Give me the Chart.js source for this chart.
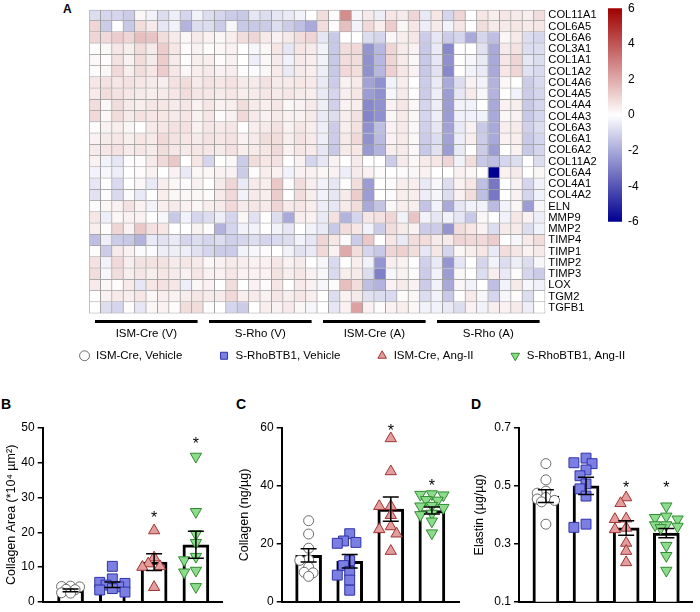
<!DOCTYPE html>
<html>
<head>
<meta charset="utf-8">
<script src="https://cdn.jsdelivr.net/npm/chart.js@4.4.1/dist/chart.umd.min.js"></script>
<style>
  body { margin: 0; background: #fff; }
  #wrap { position: relative; width: 700px; height: 612px; overflow: hidden; font-family: Arial, "Liberation Sans", sans-serif; }
  canvas { position: absolute; }
  .tag { position: absolute; font-weight: bold; color: #000; }
</style>
</head>
<body>
<div id="wrap">
  <div class="tag" style="left:63px;top:2px;font-size:12px">A</div>
  <div class="tag" style="left:1px;top:396px;font-size:14px">B</div>
  <div class="tag" style="left:236px;top:396px;font-size:14px">C</div>
  <div class="tag" style="left:471px;top:396px;font-size:14px">D</div>
  <canvas id="heat" width="605" height="345" style="left:0;top:0"></canvas>
  <canvas id="cbar" width="70" height="240" style="left:600px;top:-5px"></canvas>
  <canvas id="legend" width="700" height="100" style="left:0;top:314px"></canvas>
  <canvas id="panelB" width="232" height="197" style="left:0;top:415px"></canvas>
  <canvas id="panelC" width="235" height="197" style="left:232px;top:415px"></canvas>
  <canvas id="panelD" width="233" height="197" style="left:467px;top:415px"></canvas>
</div>
<script>
// ---- heatmap data (log2 fold change, 10 animals per group) ----
const genes = ['COL11A1', 'COL6A5', 'COL6A6', 'COL3A1', 'COL1A1', 'COL1A2', 'COL4A6', 'COL4A5', 'COL4A4',
  'COL4A3', 'COL6A3', 'COL6A1', 'COL6A2', 'COL11A2', 'COL6A4', 'COL4A1', 'COL4A2', 'ELN', 'MMP9', 'MMP2',
  'TIMP4', 'TIMP1', 'TIMP2', 'TIMP3', 'LOX', 'TGM2', 'TGFB1'];
const heatGroups = ['ISM-Cre (V)', 'S-Rho (V)', 'ISM-Cre (A)', 'S-Rho (A)'];
const heatValues = [
  [-0.8,-1,-1,-1.2,0.2,-0.3,-0.8,-0.4,-1,-0.3, -0.8,-1,-1.2,-1.3,-0.6,-0.8,-0.6,-0.5,-0.3,0, 0.8,0.1,2.7,-0.2,0.5,-0.4,0.6,0.5,1,-0.5, 0.6,-1,1,0,0.6,0.4,0.6,0.5,0.4,0.8],
  [1,-1.2,0,-1.3,0.8,0.5,-0.6,-0.3,-1.8,-0.8, -0.8,-1.2,-0.2,-1.3,-1.3,-1.2,-0.8,-1.2,-1.5,-2, 0.8,0.1,1.5,-0.3,0.9,0.4,1.2,0.2,0.6,-0.4, 0.5,-0.3,0.6,0,0.8,0.5,0.5,0.6,0.5,0.6],
  [1,0.9,1.2,1,1.5,1.4,0.8,0.5,0.2,0.5, 0.3,0.2,0.4,0.8,1,0.5,0.3,0.5,0.8,1, -0.6,-1.3,0,0,-0.8,-1,0.2,0.4,0.6,-1.2, -0.6,-1.2,-1,-2,-1,-1.5,0.2,0.5,-0.8,-1],
  [0.1,0.2,0.6,0.4,0.8,0.5,1.2,0.6,0.1,0.3, 0.1,0.2,0.3,0,-0.2,0.2,0.6,-0.6,0.6,0.5, -0.3,-1.3,0.8,0.9,-2.5,-1.7,1,0.5,0.3,-1.3, -0.5,-2.8,0,0,-0.7,-2,0.5,0.7,-0.8,-0.8],
  [0.2,0.1,0.7,0.3,0.8,0.5,1.2,0.5,0.1,0.4, 0.4,0.1,0.3,0,-0.4,0.2,0.5,-0.3,0.5,0.4, -0.3,-1.3,0.8,0.8,-2.6,-1.7,1,0.5,0.2,-1.3, -0.6,-2.6,0,-0.2,-0.5,-2,0.6,1,-0.6,-0.8],
  [0.1,0.2,0.9,0.4,0.8,0.6,1.2,0.6,0.2,0.4, 0.5,0.3,0.4,0.1,-0.1,0.2,0.5,-0.5,0.5,0.4, -0.4,-1.3,0.9,0.8,-2.6,-1.7,1.1,0.6,0.3,-1.3, -0.7,-2.8,0,-0.3,-0.5,-2,0.6,1,-0.7,-0.9],
  [0.6,0.7,0.6,0.7,0.6,0.5,0.4,0.7,0.8,0.5, 0.7,0.6,0.7,0.5,0.5,0.7,0.5,0.5,0.6,0.5, -0.5,-1.2,0.3,0.5,-2.2,-2.6,-0.3,0.4,0,-1.2, -0.5,-2,-0.8,0.3,-0.3,-1.8,0.2,0,-1.2,-0.9],
  [0.5,0.8,0.7,0.6,0.5,0.4,0.5,0.6,0.8,0.6, 0.6,0.5,0.6,0.4,0.5,0.6,0.5,0.6,0.5,0.4, -0.5,-1,0.4,0.6,-2.3,-2.6,-0.2,0.5,0.1,-1.2, -0.4,-2.3,-0.6,0.5,-0.2,-1.8,0,-0.3,-1.2,-1],
  [0.8,0.2,0.8,0.5,0.4,0.6,0.6,0.5,0.6,0.3, 0.6,0.3,0.4,0.8,0.5,0.4,0.6,0.2,0.3,0.5, -0.4,-1.1,0.3,0.4,-2.8,-2.6,0.3,0.6,0.2,-1, -0.4,-2.3,-0.3,-0.3,0,-2,0.3,0.4,-1.3,-1],
  [0.9,0.2,0.8,0.5,0.7,0.6,0.6,0.5,0.6,0.3, 0.6,0.1,0.3,0.9,0.5,0.3,0.5,0.3,0.3,0.5, -0.5,-0.8,0.4,0.7,-2.9,-2.6,0.2,0.5,0.2,-1, -0.4,-2.3,-0.3,-0.3,-0.3,-2,0.2,0.3,-1.3,-1],
  [0.1,0.3,0.4,0.2,0,0.5,0.6,0.7,0.7,0.3, 0.6,0.5,0.6,0,0.4,0.5,0.7,0.3,0.6,0.4, -0.4,-1.2,0.4,0.7,-2.6,-1.5,0.3,0.5,0.2,-1.1, -0.6,-2.2,-0.5,0.3,-1.3,-2,0.4,0.5,-1.1,-0.8],
  [0.3,0.5,0.6,0.4,0.6,0.5,0.9,0.7,0.6,0.5, 0.7,0.6,0.7,0.3,0.5,0.8,0.8,0.4,0.7,0.5, -0.4,-1.2,0.5,0.9,-2.6,-1.6,0.3,0.5,0.2,-1.2, -0.8,-2.2,-0.4,0.4,-1.2,-2,0.3,0.4,-1.3,-1],
  [0.5,0.6,0.7,0.5,0.6,0.5,0.8,0.6,0.5,0.6, 0.6,0.5,0.7,0.4,0.5,0.6,0.9,0.3,0.6,0.5, -0.6,-1.3,0.5,0.6,-2.4,-1.8,0.4,0.5,0.2,-1.3, -0.7,-2.3,-0.5,0,-1.2,-2.3,0,0.3,-1.3,-1],
  [0.3,-0.3,-0.6,0.1,0.1,0.5,0.9,1.3,0,0.6, -1,0,0.2,-1.2,0.8,0.6,0.7,0,0.3,-1, -0.6,0.3,0,0.5,0,0,-1.2,0.5,0.2,0.5, 0.6,1,-0.3,0.8,-1.3,-1.5,-1,-0.8,0,-0.8],
  [-0.3,-0.2,-0.4,0,0.1,0.3,0,0.3,-0.5,0.2, 0.2,0.3,0.3,-1.2,0.1,0.4,0.3,-0.3,0.3,0.3, 0.2,0.3,-0.4,0.5,0.3,0.1,0,0.1,0.2,0.3, 0,0,0.3,0.2,0,-6,0.3,0.5,0,0.2],
  [-0.6,0,-0.9,0,0.2,-0.5,0.4,0.2,0.1,0.3, 0,0.5,1,-0.5,0.5,0.4,1.3,0.1,0.8,0.4, -0.3,-0.6,0.1,0.8,-2.3,0,-0.1,0.4,0.4,-0.5, -0.2,-0.8,0.3,0.6,-1.5,-3.2,0,0.3,-1,-0.3],
  [-0.7,0.1,-0.9,-0.1,-0.5,0,0.4,0.2,0.2,0.2, 0.1,0.5,0.9,-0.3,0.5,0.4,1.2,0,0.8,0.4, -0.3,-0.6,0.5,1.2,-2.3,0,-0.1,0.4,0.4,-0.4, -0.2,-0.8,0.3,0.8,-1.5,-3.2,0,0.3,-1,-0.3],
  [0.1,0.2,0.3,0.7,0.3,-0.3,0.4,0.5,0.3,0.2, 0.4,0.5,0.9,0.5,0.6,0.5,1,0.5,0.6,0.4, -0.4,-0.6,0.5,0.8,-2,-1.4,0.2,0.4,0.4,-1.4, -0.3,-2,-0.6,-0.3,-0.3,-1.6,-0.3,0.2,-2.3,-0.2],
  [0.6,-0.4,0.2,0.3,0.3,0,-0.2,-1.3,-0.3,-1, -0.8,-0.4,-1,0.2,-0.7,0,-0.8,-2,0.4,0.3, -0.5,0.7,-1.8,-1,0.6,0.7,1,-0.3,1.4,-0.3, -0.6,-0.3,-0.6,-1.3,0.2,0,-0.3,0.6,0.3,-0.4],
  [0.4,0.1,1,0.3,1.3,0.7,0.6,0,0,0.3, 0.1,-1.8,-1,-0.3,-0.3,0,-0.3,-0.6,0,-0.3, -0.5,-1.3,0.8,0.6,-0.3,-1.2,0.8,0.5,0.3,-1.2, -1.2,-2.5,0.8,0.6,0.3,-0.8,0.5,0.5,-0.8,-0.3],
  [-1.5,-0.4,-1.2,-1.3,-1.8,-0.5,-0.7,-0.5,-1,-0.8, -1,-0.8,-1.1,-1,-0.8,-1,-0.9,-0.8,-0.3,-0.6, 1,0.6,-0.1,-1.2,1.3,0,0.6,-0.5,0.8,0.8, 0.5,0.5,1,0.9,0.9,1.2,0,-0.2,0.5,0.8],
  [0.1,-1.2,0.5,0.3,-0.1,-0.1,-0.4,-0.4,-0.4,-0.7, -1,-1.2,-1.2,-0.3,-0.2,0.1,0,-0.3,-0.7,-0.5, 0.9,0.3,2,0.8,-1,-1.3,1,1.1,0.8,-0.6, 0.6,-1,0.2,0.4,0.6,-0.5,0.8,0.6,0.3,0.5],
  [0.7,-0.3,0.9,0.4,0.7,0.7,0.7,0.5,0.6,0.5, 0.2,0.3,0.5,0.4,0.3,0.3,0.6,0.3,0.5,0, -0.2,-0.9,0,0.4,-0.3,-2.5,0.4,0.3,0,-1.1, -0.5,-2.5,-0.6,0,-1,-0.3,-0.8,-0.4,-0.8,-0.2],
  [0.8,-0.2,0.8,0.4,0.6,0.4,0.6,0.5,0.3,0.6, 0.3,0.3,0.6,0.3,0.3,0.3,0.7,0.4,0.6,0.3, -0.2,-0.9,0.4,0.5,-0.8,-3,-0.2,0.3,0.1,-1.2, -0.3,-2.3,0.2,0,-0.8,0.4,-0.5,0.1,-1,-1.2],
  [0.5,0.2,0.1,0.5,-0.6,0.6,0.7,0.6,-0.4,0.2, 0.3,0,0.8,0,0.3,0.1,0.6,0,0.5,0.3, -0.2,0.1,1.5,0.8,-1.5,-1.8,0.3,0.5,0.3,-1.2, -0.3,-2,0.2,-0.3,0,-1.5,-0.3,0.5,-0.2,-0.3],
  [0,0.3,0.5,0.4,0.6,0.2,0.4,0.3,0.4,0.6, 0.5,0.5,0.9,0.4,0.5,0.3,0.6,0.4,0.6,0.4, 0,-0.8,0.3,0.5,-0.7,-0.8,-0.9,0.1,0.2,-0.8, -0.3,-1.3,0,0.5,-0.2,-1,-0.2,0.1,-0.8,0],
  [0,-0.8,-1,0.1,-0.6,0.2,0.3,0.1,0.8,0.8, 0.1,0,-1,-1.2,0,0.4,0.3,0.5,0.2,-0.2, 0,-0.6,0.3,2.2,0.3,0.1,0.3,0.4,0.2,-0.3, -0.3,-0.5,-0.8,0.3,-0.3,0.4,0.3,0.5,-0.4,0]
];
const colorbarTicks = [-6, -4, -2, 0, 2, 4, 6];

// ---- bar panels ----
const groupLabels = ['ISM-Cre, Vehicle', 'S-RhoBTB1, Vehicle', 'ISM-Cre, Ang-II', 'S-RhoBTB1, Ang-II'];

const areaMeans = [3.3, 4.9, 11.4, 16.4];
const areaSem = [0.4, 0.8, 2.4, 3.9];
const areaStars = [null, null, 25.3, 46.5];
const areaPoints = [
  [4.5, 4.3, 4.4, 3.6, 3.5, 2.6, 2.5],
  [10.2, 6.6, 5.6, 5.3, 4.8, 4.3, 3.8, 3.4, 2.8],
  [20.5, 12.7, 11.0, 10.0, 10.2, 4.2],
  [41.8, 25.9, 19.5, 17.0, 13.0, 12.0, 9.0, 8.5, 4.3]
];

const collagenMeans = [16, 14, 32, 31.5];
const collagenSem = [2.3, 2.3, 4.2, 1.2];
const collagenStars = [null, null, 60.3, 41.6];
const collagenPoints = [
  [28, 23.4, 18.5, 14.5, 14.3, 12, 10.2, 10, 8.8],
  [23.5, 21, 20.5, 20.2, 14.2, 12.5, 10.5, 9.2, 7.5, 4],
  [56.4, 45, 33, 33, 29.9, 26, 25, 23.5, 17.5],
  [37, 36.8, 37.2, 35, 35.2, 33, 33.2, 32.5, 30.5, 30, 27.8, 23.7]
];

const elastinMeans = [0.465, 0.5, 0.355, 0.337];
const elastinSem = [0.022, 0.03, 0.025, 0.016];
const elastinStars = [null, null, 0.508, 0.508];
const elastinPoints = [
  [0.577, 0.521, 0.482, 0.475, 0.46, 0.455, 0.45, 0.445, 0.368],
  [0.596, 0.58, 0.577, 0.555, 0.535, 0.507, 0.49, 0.465, 0.368, 0.357],
  [0.46, 0.44, 0.387, 0.385, 0.355, 0.35, 0.303, 0.275, 0.236],
  [0.43, 0.395, 0.39, 0.385, 0.365, 0.365, 0.36, 0.355, 0.294, 0.259, 0.208]
];

const FONT = 'Arial, "Liberation Sans", sans-serif';
Chart.defaults.font.family = FONT;
Chart.defaults.color = '#000';
Chart.defaults.animation = false;
Chart.defaults.responsive = false;
Chart.defaults.events = [];
Chart.defaults.plugins.tooltip.enabled = false;
Chart.defaults.plugins.legend.display = false;

const markers = [
  { style: 'circle', radius: 5, fill: '#ffffff', stroke: '#6b6b6b', rotation: 0 },
  { style: 'rect', radius: 7, fill: '#7b7fe2', stroke: '#2f33a8', rotation: 0 },
  { style: 'triangle', radius: 6.5, fill: '#e59c9c', stroke: '#9c3434', rotation: 0 },
  { style: 'triangle', radius: 6.5, fill: '#8ddc8d', stroke: '#2f8a2f', rotation: 180 }
];

function heatColor(v) {
  const t = Math.min(Math.abs(v) / 6, 1);
  const end = v >= 0 ? [160, 0, 0] : [0, 0, 145];
  const c = end.map(e => Math.round(255 + (e - 255) * t));
  return 'rgb(' + c.join(',') + ')';
}

// ---- heatmap: one floating-bar dataset per animal column ----
const nCols = heatValues[0].length;
const heatDatasets = [];
for (let c = 0; c < nCols; c++) {
  heatDatasets.push({
    data: genes.map(() => [c, c + 1]),
    backgroundColor: heatValues.map(row => heatColor(row[c])),
    borderColor: '#a0a0a0',
    borderWidth: ctx => ({ top: ctx.dataIndex === 0 ? 1 : 0, left: c === 0 ? 1 : 0, right: 1, bottom: 1 }),
    borderSkipped: false,
    barPercentage: 1,
    categoryPercentage: 1,
    grouped: false
  });
}

const groupBars = {
  id: 'groupBars',
  afterDraw(chart) {
    const { ctx, scales: { x } } = chart;
    ctx.save();
    ctx.strokeStyle = '#000';
    ctx.lineWidth = 3;
    ctx.fillStyle = '#000';
    ctx.font = '11.5px ' + FONT;
    ctx.textAlign = 'center';
    ctx.textBaseline = 'middle';
    heatGroups.forEach((g, i) => {
      const a = x.getPixelForValue(i * 10 + 0.5), b = x.getPixelForValue(i * 10 + 9.5);
      ctx.beginPath();
      ctx.moveTo(a, 321.5);
      ctx.lineTo(b, 321.5);
      ctx.stroke();
      ctx.fillText(g, x.getPixelForValue(i * 10 + 5), 334);
    });
    ctx.restore();
  }
};

new Chart(document.getElementById('heat'), {
  type: 'bar',
  data: { labels: genes, datasets: heatDatasets },
  options: {
    indexAxis: 'y',
    layout: { padding: { left: 89.3, top: 4.3, right: 0, bottom: 31.5 } },
    scales: {
      x: { type: 'linear', min: 0, max: nCols, display: false },
      y: {
        type: 'category', position: 'right', offset: true,
        grid: { display: false, drawTicks: false }, border: { display: false },
        ticks: { autoSkip: false, padding: 3, font: { size: 11.2 } },
        afterFit: s => { s.width = 59.7; }
      }
    }
  },
  plugins: [groupBars]
});

// ---- colour bar ----
new Chart(document.getElementById('cbar'), {
  type: 'bar',
  data: {
    labels: [''],
    datasets: [{
      data: [[colorbarTicks[0], colorbarTicks[colorbarTicks.length - 1]]],
      barPercentage: 1, categoryPercentage: 1, borderWidth: 0,
      backgroundColor(ctx) {
        const { chart } = ctx;
        const area = chart.chartArea;
        if (!area) return '#fff';
        const g = chart.ctx.createLinearGradient(0, area.top, 0, area.bottom);
        g.addColorStop(0, heatColor(6));
        g.addColorStop(0.5, '#ffffff');
        g.addColorStop(1, heatColor(-6));
        return g;
      }
    }]
  },
  options: {
    layout: { padding: { left: 8, top: 9, bottom: 13, right: 0 } },
    scales: {
      x: { display: false },
      y: {
        position: 'right', min: -6, max: 6,
        grid: { display: false, drawTicks: false }, border: { display: false },
        ticks: { stepSize: 2, padding: 6, font: { size: 12 } },
        afterFit: s => { s.width = 48; }
      }
    }
  }
});

// ---- legend ----
new Chart(document.getElementById('legend'), {
  type: 'scatter',
  data: {
    datasets: groupLabels.map((label, i) => ({
      label,
      data: [],
      pointStyle: markers[i].style,
      pointRotation: markers[i].rotation,
      backgroundColor: markers[i].fill,
      pointBackgroundColor: markers[i].fill,
      borderColor: markers[i].stroke,
      pointBorderColor: markers[i].stroke,
      borderWidth: 1
    }))
  },
  options: {
    layout: { padding: { left: 4 } },
    scales: { x: { display: false }, y: { display: false } },
    plugins: {
      legend: {
        display: true,
        labels: { usePointStyle: true, boxHeight: 7, padding: 36, font: { size: 11.5 }, color: '#000' }
      }
    }
  }
});

// ---- bar + scatter panels ----
function swarm(vals, pxPerUnitY, pxPerUnitX, r) {
  // compact beeswarm: highest values first, small sideways shifts, overlap allowed
  const placed = [];
  const out = new Array(vals.length).fill(0);
  const order = vals.map((v, i) => i).sort((a, b) => vals[b] - vals[a]);
  const steps = [0, -1, 1, -2, 2];
  order.forEach(i => {
    const y = vals[i] * pxPerUnitY;
    let best = 0, bestGap = -1;
    for (const s of steps) {
      const x = s * r * 0.9;
      const gap = placed.length ? Math.min(...placed.map(p => Math.hypot(p.x - x, p.y - y))) : Infinity;
      if (gap >= 1.15 * r) { best = x; bestGap = gap; break; }
      if (gap > bestGap) { best = x; bestGap = gap; }
    }
    placed.push({ x: best, y });
    out[i] = best / pxPerUnitX;
  });
  return out;
}

function errorBarPlugin(means, sems, stars) {
  return {
    id: 'errorBars',
    afterDatasetsDraw(chart) {
      const { ctx, scales: { x, y } } = chart;
      ctx.save();
      ctx.strokeStyle = '#000';
      ctx.lineWidth = 1.5;
      means.forEach((m, i) => {
        const px = x.getPixelForValue(i);
        const top = y.getPixelForValue(m + sems[i]);
        const bot = y.getPixelForValue(m - sems[i]);
        ctx.beginPath();
        ctx.moveTo(px, top); ctx.lineTo(px, bot);
        ctx.moveTo(px - 8, top); ctx.lineTo(px + 8, top);
        ctx.moveTo(px - 8, bot); ctx.lineTo(px + 8, bot);
        ctx.stroke();
      });
      ctx.fillStyle = '#000';
      ctx.font = '16px ' + FONT;
      ctx.textAlign = 'center';
      ctx.textBaseline = 'alphabetic';
      stars.forEach((s, i) => {
        if (s === null) return;
        ctx.fillText('*', x.getPixelForValue(i), y.getPixelForValue(s) + 0.58 * 16);
      });
      ctx.restore();
    }
  };
}

function makePanel(id, spec) {
  const plotH = 179, unitX = 41.7;
  const pxPerY = plotH / (spec.max - spec.min);
  const datasets = [{
    type: 'bar',
    data: spec.means.map((m, i) => ({ x: i, y: m })),
    backgroundColor: '#ffffff',
    borderColor: '#000000',
    borderWidth: 3,
    barThickness: 26,
    order: 5
  }];
  spec.points.forEach((vals, g) => {
    const mk = markers[g];
    const off = swarm(vals, pxPerY, unitX, mk.radius);
    datasets.push({
      type: 'scatter',
      data: vals.map((v, k) => ({ x: g + off[k], y: v })),
      pointStyle: mk.style,
      pointRotation: mk.rotation,
      pointRadius: mk.radius,
      pointBackgroundColor: mk.fill,
      pointBorderColor: mk.stroke,
      pointBorderWidth: 1,
      order: 1
    });
  });
  new Chart(document.getElementById(id), {
    data: { datasets },
    options: {
      layout: { padding: { top: 13, bottom: 5, right: spec.padRight, left: 0 } },
      scales: {
        x: {
          type: 'linear', min: spec.xMin, max: spec.xMax, offset: false,
          grid: { display: false }, ticks: { display: false },
          border: { display: true, color: '#000', width: 2 },
          afterFit: s => { s.height = 0; }
        },
        y: {
          min: spec.min, max: spec.max,
          ticks: { stepSize: spec.step, padding: 3, font: { size: 12 }, callback: spec.fmt },
          grid: { display: true, drawOnChartArea: false, drawTicks: true, tickLength: 5, color: '#000', lineWidth: 1.5 },
          border: { display: true, color: '#000', width: 2 },
          title: { display: true, text: spec.title, font: { size: 12.5 }, padding: { top: spec.titlePad, bottom: 0 } },
          afterFit: s => { s.width = spec.axisW; }
        }
      }
    },
    plugins: [errorBarPlugin(spec.means, spec.sems, spec.stars)]
  });
}

makePanel('panelB', {
  title: 'Collagen Area (*10⁴ µm²)', min: 0, max: 50, step: 10,
  means: areaMeans, sems: areaSem, stars: areaStars, points: areaPoints,
  axisW: 42.7, xMin: -0.667, xMax: 3.625, padRight: 10, titlePad: 4.5
});
makePanel('panelC', {
  title: 'Collagen (ng/µg)', min: 0, max: 60, step: 20,
  means: collagenMeans, sems: collagenSem, stars: collagenStars, points: collagenPoints,
  axisW: 49.7, xMin: -0.655, xMax: 3.66, padRight: 5, titlePad: 5.5
});
makePanel('panelD', {
  title: 'Elastin (µg/µg)', min: 0.1, max: 0.7, step: 0.2, fmt: v => v.toFixed(1),
  means: elastinMeans, sems: elastinSem, stars: elastinStars, points: elastinPoints,
  axisW: 52, xMin: -0.67, xMax: 3.64, padRight: 2, titlePad: 5.5
});
</script>
</body>
</html>
